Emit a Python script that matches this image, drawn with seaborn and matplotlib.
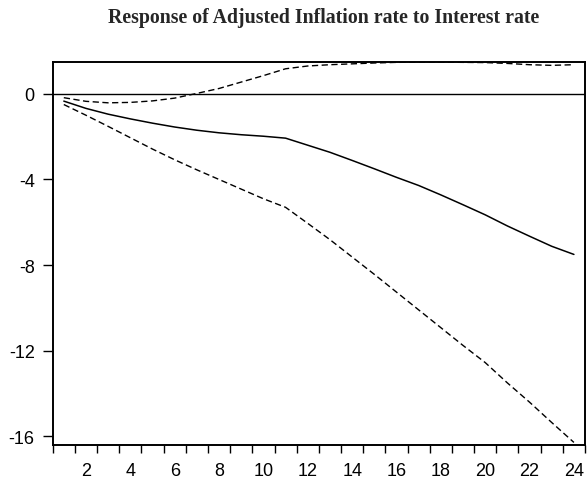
import numpy as np
import pandas as pd
import matplotlib
matplotlib.use("Agg")
import matplotlib.pyplot as plt
from matplotlib.ticker import FixedLocator, NullFormatter
import seaborn as sns

periods = list(range(1, 25))
response = [-0.34, -0.68, -0.95, -1.17, -1.37, -1.55, -1.70, -1.82, -1.91, -1.98,
            -2.07, -2.40, -2.73, -3.11, -3.50, -3.90, -4.28, -4.72, -5.18, -5.65,
            -6.17, -6.65, -7.12, -7.50]
upper_band = [-0.18, -0.35, -0.42, -0.40, -0.33, -0.20, 0.02, 0.25, 0.55, 0.85,
              1.17, 1.30, 1.36, 1.40, 1.44, 1.47, 1.48, 1.48, 1.47, 1.46,
              1.42, 1.36, 1.33, 1.36]
lower_band = [-0.50, -1.00, -1.52, -2.05, -2.58, -3.08, -3.55, -4.00, -4.45, -4.90,
              -5.30, -6.05, -6.81, -7.62, -8.43, -9.26, -10.09, -10.92, -11.75, -12.55,
              -13.50, -14.40, -15.35, -16.28]
y_ticks = [0, -4, -8, -12, -16]
x_labels = [2, 4, 6, 8, 10, 12, 14, 16, 18, 20, 22, 24]

df = pd.DataFrame({"period": periods, "response": response,
                   "upper": upper_band, "lower": lower_band})

sns.set_theme(style="white")
plt.rcParams["font.family"] = ["Liberation Sans", "DejaVu Sans"]

fig = plt.figure(figsize=(5.87, 4.85), dpi=100)
ax = fig.add_axes([0.0898, 0.0804, 0.9068, 0.7903])

ax.axhline(0, color="black", lw=1.0, zorder=1)
sns.lineplot(data=df, x="period", y="response", ax=ax, color="black", lw=1.1)
sns.lineplot(data=df, x="period", y="upper", ax=ax, color="black", lw=1.0,
             linestyle=(0, (4.5, 2.5)))
sns.lineplot(data=df, x="period", y="lower", ax=ax, color="black", lw=1.0,
             linestyle=(0, (4.5, 2.5)))

ax.set_xlim(0.5, 24.5)
ax.set_ylim(-16.4, 1.5)
ax.set_xlabel("")
ax.set_ylabel("")

for s in ax.spines.values():
    s.set_visible(True)
    s.set_color("black")
    s.set_linewidth(1.4)

# x axis: labels on even periods, tick marks between periods
ax.xaxis.set_major_locator(FixedLocator(x_labels))
ax.set_xticklabels([str(v) for v in x_labels])
ax.xaxis.set_minor_locator(FixedLocator(np.arange(0.5, 25, 1.0)))
ax.xaxis.set_minor_formatter(NullFormatter())
ax.tick_params(axis="x", which="major", length=0, pad=12, labelsize=13, colors="black")
ax.tick_params(axis="x", which="minor", bottom=True, length=6, width=1.0,
               direction="out", color="black")

ax.set_yticks(y_ticks)
ax.set_yticklabels([str(v) for v in y_ticks])
ax.tick_params(axis="y", which="major", left=True, length=7, width=1.0,
               direction="out", pad=6, labelsize=13, colors="black")

fig.text(0.551, 0.962, "Response of Adjusted Inflation rate to Interest rate",
         ha="center", va="center", fontsize=14.3, fontweight="bold",
         family=["Liberation Serif", "DejaVu Serif"])

fig.savefig("out.png", dpi=100, facecolor="white")
